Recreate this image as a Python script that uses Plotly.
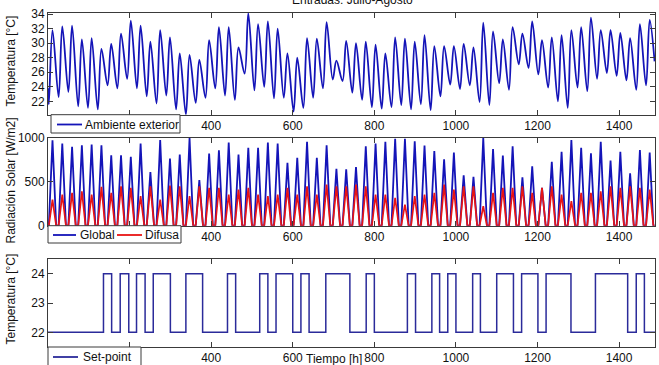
import plotly.graph_objects as go

# ---------------- data ----------------
N_HOURS = 1488          # July + August, hourly
HOURS_PER_DAY = 24

# Outdoor temperature: daily minimum / maximum [°C]
T_START = 23.8
T_END = 27.5
T_MIN = [21.6, 22.6, 23.3, 21.3, 21.1, 20.9, 24.2, 23.8, 25.1, 23.8,
         22.7, 21.7, 22.8, 20.9, 20.2, 21.8, 22.5, 23.8, 22.8, 22.2,
         25.8, 23.5, 24.0, 22.4, 22.5, 20.6, 21.1, 22.5, 23.8, 25.0,
         24.8, 23.2, 22.2, 21.2, 21.0, 21.2, 21.5, 20.9, 21.6, 20.8,
         22.7, 24.3, 23.7, 24.2, 21.9, 21.5, 24.5, 23.6, 27.1, 26.6,
         25.7, 23.9, 22.0, 21.1, 23.9, 23.4, 25.1, 25.9, 25.5, 24.9,
         23.6, 24.2]
T_MAX = [31.8, 32.3, 32.4, 30.5, 30.7, 29.2, 29.9, 31.3, 33.1, 32.4,
         30.2, 31.8, 30.8, 28.6, 28.4, 27.7, 30.4, 32.2, 32.2, 29.4,
         34.1, 32.6, 33.0, 32.0, 28.6, 28.0, 30.7, 30.6, 32.9, 27.6,
         30.3, 30.0, 30.2, 29.8, 28.6, 30.8, 30.6, 30.2, 31.1, 29.6,
         29.6, 29.6, 29.9, 29.4, 32.8, 31.6, 30.5, 32.2, 31.3, 33.0,
         30.4, 30.8, 31.1, 31.8, 32.2, 33.5, 31.8, 31.8, 31.4, 30.7,
         32.6, 33.2]
HOUR_TMIN = 2
HOUR_TMAX = 11

# Solar radiation: daily peaks [W/m2]
G_PEAK = [975, 937, 899, 918, 925, 918, 804, 804, 785, 937,
          611, 976, 766, 811, 1000, 519, 823, 861, 949, 811,
          887, 887, 949, 937, 716, 773, 956, 773, 918, 648,
          644, 670, 906, 936, 958, 991, 991, 962, 915, 852,
          757, 833, 575, 558, 1000, 873, 801, 906, 552, 676,
          432, 728, 842, 978, 887, 825, 957, 743, 842, 598,
          863, 835]
D_PEAK = [298, 355, 374, 393, 355, 443, 374, 450, 431, 336,
          450, 298, 458, 450, 336, 450, 431, 431, 355, 412,
          431, 355, 336, 355, 431, 355, 450, 355, 469, 450,
          450, 469, 450, 355, 355, 317, 241, 336, 355, 374,
          469, 412, 450, 450, 222, 374, 431, 431, 450, 374,
          431, 450, 355, 279, 374, 374, 393, 450, 431, 450,
          431, 412]
HOUR_SUNRISE = 2
HOUR_NOON = 11
HOUR_SUNSET = 20

# Set-point changes [h] (starts at 22 °C, toggles 22 <-> 24)
SP_CHANGES = [136, 156, 177, 198, 217, 238, 258, 300, 338, 379,
              440, 460, 519, 539, 559, 600, 620, 640, 681, 740,
              780, 800, 881, 901, 941, 960, 980, 1000, 1041, 1060,
              1100, 1141, 1161, 1201, 1221, 1282, 1342, 1421, 1442, 1462]
SP_LOW, SP_HIGH = 22, 24

X_TICKS = [0, 200, 400, 600, 800, 1000, 1200, 1400]
X_TICKTEXT = ["", "", "400", "600", "800", "1000", "1200", "1400"]   # 0 and 200 hidden by the legends

# ---------------- build series ----------------
n_days = len(T_MAX)
tx, ty = [0], [T_START]
for d in range(n_days):
    tx += [d * HOURS_PER_DAY + HOUR_TMIN, d * HOURS_PER_DAY + HOUR_TMAX]
    ty += [T_MIN[d], T_MAX[d]]
tx.append(N_HOURS - 1)
ty.append(T_END)

rx, gy, dy = [0], [0], [0]
for d in range(n_days):
    base = d * HOURS_PER_DAY
    rx += [base + HOUR_SUNRISE, base + HOUR_NOON, base + HOUR_SUNSET]
    gy += [0, G_PEAK[d], 0]
    dy += [0, D_PEAK[d], 0]
rx.append(N_HOURS - 1)
gy.append(0)
dy.append(0)

sx = [0] + SP_CHANGES + [N_HOURS]
sy = []
level = SP_LOW
for _ in range(len(SP_CHANGES) + 1):
    sy.append(level)
    level = SP_HIGH if level == SP_LOW else SP_LOW
sy.append(sy[-1])

# ---------------- figure ----------------
W, H = 659, 365
FONT = "Arial, Liberation Sans, Helvetica, sans-serif"
BLUE = "#1414B8"
RED = "#E81414"
NAVY = "#2B2B9A"
AX = "#3a3a3a"
TXT = "#111111"

fig = go.Figure()
fig.add_trace(go.Scatter(x=tx, y=ty, mode="lines", line=dict(color=BLUE, width=1.8, shape="spline", smoothing=1),
                         name="Ambiente exterior", xaxis="x", yaxis="y"))
fig.add_trace(go.Scatter(x=rx, y=gy, mode="lines", line=dict(color=BLUE, width=1.8),
                         name="Global", xaxis="x2", yaxis="y2"))
fig.add_trace(go.Scatter(x=rx, y=dy, mode="lines", line=dict(color=RED, width=1.7),
                         name="Difusa", xaxis="x2", yaxis="y2"))
fig.add_trace(go.Scatter(x=sx, y=sy, mode="lines", line=dict(color=NAVY, width=1.5, shape="hv"),
                         name="Set-point", xaxis="x3", yaxis="y3"))

def px_x(p):
    return p / W

def px_y(p):
    return 1 - p / H

XL, XR = px_x(48), px_x(655)
doms = {
    "1": (px_y(114.7), px_y(13)),
    "2": (px_y(225.7), px_y(138)),
    "3": (px_y(347), px_y(259)),
}

xcommon = dict(range=[0, N_HOURS], tickvals=X_TICKS, ticktext=X_TICKTEXT, ticks="inside", ticklen=5,
               tickcolor=AX, showline=True, linecolor=AX, linewidth=1, mirror="ticks", showgrid=False,
               zeroline=False, tickfont=dict(family=FONT, size=12, color=TXT), domain=[XL, XR],
               automargin=False)
ycommon = dict(ticks="inside", ticklen=5, tickcolor=AX, showline=True, linecolor=AX, linewidth=1,
               mirror="ticks", showgrid=False, zeroline=False, automargin=False,
               tickfont=dict(family=FONT, size=12, color=TXT))

fig.update_layout(
    width=W, height=H, margin=dict(l=0, r=0, t=0, b=0, autoexpand=False),
    paper_bgcolor="white", plot_bgcolor="white", showlegend=False,
    font=dict(family=FONT, size=12, color=TXT),
    xaxis=dict(**xcommon, anchor="y"),
    xaxis2=dict(**xcommon, anchor="y2"),
    xaxis3=dict(**xcommon, anchor="y3"),
    yaxis=dict(**ycommon, anchor="x", domain=list(doms["1"]), range=[20.17, 34.14],
               tickvals=[22, 24, 26, 28, 30, 32, 34]),
    yaxis2=dict(**ycommon, anchor="x2", domain=list(doms["2"]), range=[0, 1000],
                tickvals=[0, 500, 1000]),
    yaxis3=dict(**ycommon, anchor="x3", domain=list(doms["3"]), range=[21.5, 24.5],
                tickvals=[22, 23, 24]),
)

# ---- y-axis titles (MATLAB aligns them on one column) ----
for text, yc in [("Temperatura [°C]", 61), ("Radiación Solar [W/m2]", 181), ("Temperatura [°C]", 299)]:
    fig.add_annotation(text=text, xref="paper", yref="paper", x=px_x(10.5), y=px_y(yc),
                       xanchor="center", yanchor="middle", textangle=-90, showarrow=False,
                       font=dict(family=FONT, size=12, color=TXT))

# ---- manual MATLAB-style legend boxes ----
def legend_box(x0, y0, x1, y1, items, yc):
    fig.add_shape(type="rect", xref="paper", yref="paper",
                  x0=px_x(x0), x1=px_x(x1), y0=px_y(y1), y1=px_y(y0),
                  fillcolor="white", line=dict(color=AX, width=1), layer="above")
    for (lx0, lx1, tx0, label, color) in items:
        fig.add_shape(type="line", xref="paper", yref="paper",
                      x0=px_x(lx0), x1=px_x(lx1), y0=px_y(yc), y1=px_y(yc),
                      line=dict(color=color, width=1.8), layer="above")
        fig.add_annotation(text=label, xref="paper", yref="paper", x=px_x(tx0), y=px_y(yc),
                           xanchor="left", yanchor="middle", showarrow=False,
                           font=dict(family=FONT, size=12, color=TXT))

legend_box(51, 114.7, 180, 133, [(57, 82, 83, "Ambiente exterior", BLUE)], 124.5)
legend_box(48, 225.7, 181, 243, [(53, 76, 78, "Global", BLUE), (117, 142, 143, "Difusa", RED)], 235)
legend_box(48, 347, 141, 368, [(53, 78, 81, "Set-point", NAVY)], 357)

fig.add_annotation(text="Entradas: Julio-Agosto", xref="paper", yref="paper", x=px_x(352), y=px_y(0),
                   xanchor="center", yanchor="middle", showarrow=False, font=dict(family=FONT, size=12, color=TXT))
fig.add_annotation(text="Tiempo [h]", xref="paper", yref="paper", x=px_x(334), y=px_y(359),
                   xanchor="center", yanchor="middle", showarrow=False, font=dict(family=FONT, size=12, color=TXT))

fig.write_html("out.html")
